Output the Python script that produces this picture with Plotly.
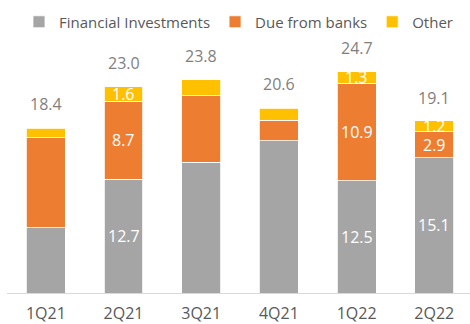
import plotly.graph_objects as go

quarters = ["1Q21", "2Q21", "3Q21", "4Q21", "1Q22", "2Q22"]
financial_investments = [7.3, 12.7, 14.6, 17.0, 12.5, 15.1]
due_from_banks = [10.0, 8.7, 7.4, 2.3, 10.9, 2.9]
other = [1.1, 1.6, 1.8, 1.3, 1.3, 1.2]
totals = [18.4, 23.0, 23.8, 20.6, 24.7, 19.1]
# quarters whose segment values are printed inside the bars
labelled = [False, True, False, False, True, True]

GREY = "#A5A5A5"
ORANGE = "#ED7D31"
YELLOW = "#FFC000"
TEXT = "#7F7F7F"
FONT = "Open Sans, Noto Sans, sans-serif"

series = [
    ("Financial Investments", financial_investments, GREY),
    ("Due from banks", due_from_banks, ORANGE),
    ("Other", other, YELLOW),
]

fig = go.Figure()
for name, vals, color in series:
    fig.add_trace(go.Bar(
        x=quarters, y=vals, name=name,
        marker=dict(color=color, line=dict(color="white", width=0.8)),
        width=0.5,
    ))

annotations = []
base = [0.0] * len(quarters)
for name, vals, color in series:
    for i, v in enumerate(vals):
        if labelled[i]:
            annotations.append(dict(
                x=quarters[i], y=base[i] + v / 2, text=f"{v:.1f}",
                showarrow=False, font=dict(color="white", size=16, family=FONT),
                xref="x", yref="y",
            ))
        base[i] += v

for q, t in zip(quarters, totals):
    annotations.append(dict(
        x=q, y=t, text=f"{t:.1f}", showarrow=False, yshift=24,
        font=dict(color=TEXT, size=16, family=FONT), xref="x", yref="y",
    ))

fig.update_layout(
    barmode="stack",
    width=470, height=324,
    margin=dict(l=7, r=0, t=60, b=29),
    paper_bgcolor="white", plot_bgcolor="white",
    font=dict(family=FONT, color=TEXT, size=14),
    bargap=0.5,
    legend=dict(
        orientation="h", x=0.5, xanchor="center",
        y=1 - 22 / 324, yanchor="middle", yref="container",
        font=dict(size=15, color="#595959"),
        tracegroupgap=0, traceorder="normal",
    ),
    annotations=annotations,
    xaxis=dict(
        range=[-0.5, 5.46], showgrid=False, showline=True, linecolor="#D9D9D9",
        linewidth=1, ticks="", tickfont=dict(size=16, color="#595959"),
        ticklabelstandoff=6,
    ),
    yaxis=dict(range=[0, 26], visible=False, showgrid=False),
)

fig.write_html("out.html")
